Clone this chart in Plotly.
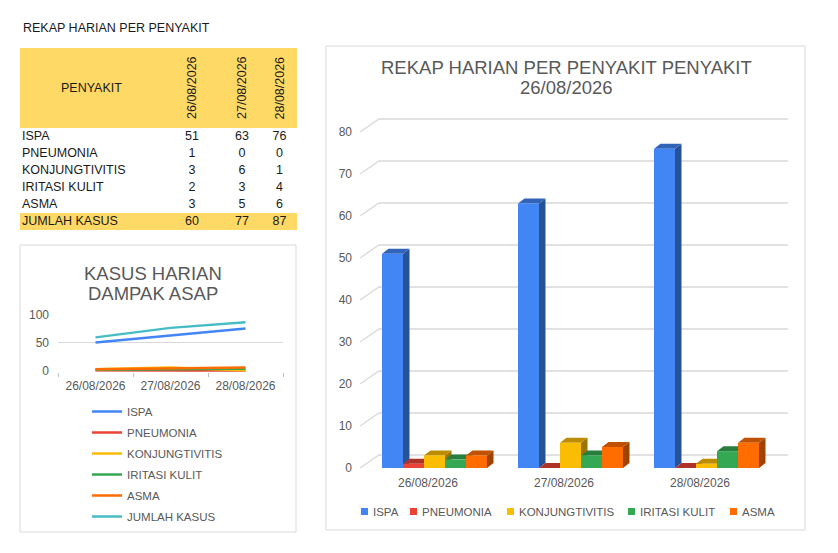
import plotly.graph_objects as go

LEBAR, TINGGI = 838, 553

# data
tanggal = ["26/08/2026", "27/08/2026", "28/08/2026"]
penyakit = ["ISPA", "PNEUMONIA", "KONJUNGTIVITIS", "IRITASI KULIT", "ASMA"]

ispa = [51, 63, 76]
pneumonia = [1, 0, 0]
konjungtivitis = [3, 6, 1]
iritasi_kulit = [2, 3, 4]
asma = [3, 5, 6]
jumlah_kasus = [60, 77, 87]

ticks_batang = [0, 10, 20, 30, 40, 50, 60, 70, 80]
ticks_garis = [0, 50, 100]

seri = [ispa, pneumonia, konjungtivitis, iritasi_kulit, asma]
warna = ["#4285F4", "#EA4335", "#FBBC04", "#34A853", "#FF6D01"]
WARNA_JUMLAH = "#46BDC6"
KUNING = "#FFD966"
ABU = "#595959"
HITAM = "#1a1a1a"
FONT = "Arial, Liberation Sans, sans-serif"


def px_x(p):
    return p / LEBAR


def px_y(p):
    return 1 - p / TINGGI


def gelap(hex_warna, f):
    r, g, b = (int(hex_warna[i:i + 2], 16) for i in (1, 3, 5))
    return "rgb(%d,%d,%d)" % (r * f, g * f, b * f)


fig = go.Figure()

# ---------------- grafik batang 3D (kanan) ----------------
PX_KAT = 136.0      # px per tanggal
PX_NILAI = 4.2      # px per kasus
LEBAR_BATANG = 21 / PX_KAT
GESER = 6.5 / PX_KAT
DALAM_X = 6.5 / PX_KAT
DALAM_Y = 5 / PX_NILAI
DINDING_X = 19 / PX_KAT
DINDING_Y = 13 / PX_NILAI
X_MIN, X_MAX = -0.5, 2.65
Y_MIN, Y_MAX = -0.5, 84

# garis grid di dinding belakang
gx, gy = [], []
for v in ticks_batang:
    gx += [X_MIN, X_MIN + DINDING_X, X_MAX, None]
    gy += [v, v + DINDING_Y, v + DINDING_Y, None]
fig.add_trace(go.Scatter(
    x=gx, y=gy, mode="lines", line=dict(color="#d9d9d9", width=1.3),
    showlegend=False, hoverinfo="skip", zorder=-1
))

for i, (nama, nilai) in enumerate(zip(penyakit, seri)):
    pusat = [k + GESER + (i - 2) * LEBAR_BATANG for k in range(len(tanggal))]
    sx, sy, tx, ty = [], [], [], []
    for c, v in zip(pusat, nilai):
        kiri, kanan = c - LEBAR_BATANG / 2, c + LEBAR_BATANG / 2
        sx += [kanan, kanan + DALAM_X, kanan + DALAM_X, kanan, None]
        sy += [0, DALAM_Y, v + DALAM_Y, v, None]
        tx += [kiri, kiri + DALAM_X, kanan + DALAM_X, kanan, None]
        ty += [v, v + DALAM_Y, v + DALAM_Y, v, None]
    # sisi samping
    fig.add_trace(go.Scatter(
        x=sx, y=sy, mode="lines", fill="toself",
        fillcolor=gelap(warna[i], 0.62), line=dict(width=0),
        showlegend=False, hoverinfo="skip", zorder=2 * i
    ))
    # sisi atas
    fig.add_trace(go.Scatter(
        x=tx, y=ty, mode="lines", fill="toself",
        fillcolor=gelap(warna[i], 0.75), line=dict(width=0),
        showlegend=False, hoverinfo="skip", zorder=2 * i
    ))
    # sisi depan
    fig.add_trace(go.Bar(
        x=pusat, y=nilai, width=LEBAR_BATANG, name=nama,
        marker=dict(color=warna[i], line=dict(width=0)),
        showlegend=False, zorder=2 * i + 1
    ))

# ---------------- grafik garis (kiri bawah) ----------------
for nama, nilai, w in zip(penyakit + ["JUMLAH KASUS"],
                          seri + [jumlah_kasus],
                          warna + [WARNA_JUMLAH]):
    fig.add_trace(go.Scatter(
        x=tanggal, y=nilai, mode="lines", name=nama,
        line=dict(color=w, width=2.5),
        xaxis="x2", yaxis="y2", legend="legend2", legendgroup=nama
    ))

# ---------------- tabel (kiri atas) ----------------
KOLOM = [0, 142, 202, 242, 277]
pusat_kolom = [(KOLOM[j] + KOLOM[j + 1]) / 2 for j in range(len(KOLOM) - 1)]
BARIS_ATAS, TINGGI_BARIS = 88, 17
baris = penyakit + ["JUMLAH KASUS"]
isi = seri + [jumlah_kasus]
pusat_baris = [BARIS_ATAS + TINGGI_BARIS * (r + 0.5) for r in range(len(baris))]

fig.add_trace(go.Scatter(
    x=[2] * len(baris), y=pusat_baris, text=baris, mode="text",
    textposition="middle right", textfont=dict(size=12.5, color=HITAM, family=FONT),
    xaxis="x3", yaxis="y3", showlegend=False, hoverinfo="skip", cliponaxis=False
))
vx, vy, vt = [], [], []
for r, nilai in enumerate(isi):
    for c, v in enumerate(nilai):
        vx.append(pusat_kolom[c + 1])
        vy.append(pusat_baris[r])
        vt.append(str(v))
fig.add_trace(go.Scatter(
    x=vx, y=vy, text=vt, mode="text", textposition="middle center",
    textfont=dict(size=12.5, color=HITAM, family=FONT),
    xaxis="x3", yaxis="y3", showlegend=False, hoverinfo="skip", cliponaxis=False
))

shapes = [
    dict(type="rect", xref="x3", yref="y3", x0=KOLOM[0], x1=KOLOM[-1],
         y0=8, y1=BARIS_ATAS, fillcolor=KUNING, line=dict(width=0), layer="below"),
    dict(type="rect", xref="x3", yref="y3", x0=KOLOM[0], x1=KOLOM[-1],
         y0=pusat_baris[-1] - TINGGI_BARIS / 2, y1=pusat_baris[-1] + TINGGI_BARIS / 2,
         fillcolor=KUNING, line=dict(width=0), layer="below"),
    # bingkai grafik
    dict(type="rect", xref="paper", yref="paper", x0=px_x(20), x1=px_x(296),
         y0=px_y(532), y1=px_y(245), line=dict(color="#d9d9d9", width=1)),
    dict(type="rect", xref="paper", yref="paper", x0=px_x(326), x1=px_x(805),
         y0=px_y(530), y1=px_y(46), line=dict(color="#d9d9d9", width=1)),
]


def teks(text, x, y, size, color=ABU, anchor="center"):
    return dict(text=text, xref="paper", yref="paper", x=px_x(x), y=px_y(y),
                xanchor=anchor, yanchor="middle", showarrow=False,
                font=dict(size=size, color=color, family=FONT))


annotations = [
    teks("REKAP HARIAN PER PENYAKIT", 21, 28, 12.5, HITAM, "left"),
    teks("REKAP HARIAN PER PENYAKIT PENYAKIT", 566, 67, 18.5),
    teks("26/08/2026", 566, 88, 18.5),
    teks("KASUS HARIAN", 153, 273, 18.5),
    teks("DAMPAK ASAP", 153, 293, 18.5),
    dict(text="PENYAKIT", xref="x3", yref="y3", x=pusat_kolom[0], y=48,
         xanchor="center", yanchor="middle", showarrow=False,
         font=dict(size=12.5, color=HITAM, family=FONT)),
]
for c, t in enumerate(tanggal):
    annotations.append(dict(
        text=t, xref="x3", yref="y3", x=pusat_kolom[c + 1], y=48, textangle=-90,
        xanchor="center", yanchor="middle", showarrow=False,
        font=dict(size=12.5, color=HITAM, family=FONT)
    ))

# legenda grafik batang
LEGENDA_X = [361, 410, 507, 628, 730]
for x0, nama, w in zip(LEGENDA_X, penyakit, warna):
    shapes.append(dict(type="rect", xref="paper", yref="paper",
                       x0=px_x(x0), x1=px_x(x0 + 7), y0=px_y(515), y1=px_y(508),
                       fillcolor=w, line=dict(width=0)))
    annotations.append(teks(nama, x0 + 10, 512, 11.5, ABU, "left"))

fig.update_layout(
    width=LEBAR, height=TINGGI,
    margin=dict(l=0, r=0, t=0, b=0, pad=0, autoexpand=False),
    paper_bgcolor="white", plot_bgcolor="rgba(0,0,0,0)",
    font=dict(family=FONT, color=ABU),
    barmode="overlay",
    showlegend=True,
    xaxis=dict(domain=[px_x(360), px_x(360 + (X_MAX - X_MIN) * PX_KAT)],
               range=[X_MIN, X_MAX], tickvals=[0, 1, 2], ticktext=tanggal,
               showgrid=False, zeroline=False, showline=False, ticks="",
               tickfont=dict(size=12, color=ABU), ticklabelstandoff=4,
               automargin=False, anchor="y"),
    yaxis=dict(domain=[px_y(468 - Y_MIN * PX_NILAI), px_y(468 - Y_MAX * PX_NILAI)],
               range=[Y_MIN, Y_MAX], tickvals=ticks_batang,
               showgrid=False, zeroline=False, showline=False, ticks="",
               tickfont=dict(size=12, color=ABU), ticklabelstandoff=7,
               automargin=False, anchor="x"),
    xaxis2=dict(domain=[px_x(58), px_x(283)], type="category", range=[-0.5, 2.5],
                tickson="boundaries", ticks="outside", ticklen=4,
                tickcolor="#bfbfbf", showline=True, linecolor="#bfbfbf",
                showgrid=False, zeroline=False, anchor="y2", automargin=False,
                ticklabelstandoff=3, tickfont=dict(size=12, color=ABU)),
    yaxis2=dict(domain=[px_y(371.8), px_y(315)], range=[-1.5, 100],
                tickvals=ticks_garis, gridcolor="#d9d9d9", zeroline=False,
                ticks="", ticklabelstandoff=8, anchor="x2", automargin=False,
                tickfont=dict(size=12, color=ABU)),
    xaxis3=dict(domain=[px_x(20), px_x(297)], range=[0, 277], visible=False,
                anchor="y3"),
    yaxis3=dict(domain=[px_y(240), px_y(40)], range=[200, 0], visible=False,
                anchor="x3"),
    legend2=dict(x=px_x(87), y=px_y(397), xanchor="left", yanchor="top",
                 font=dict(size=11.5, color=ABU, family=FONT),
                 tracegroupgap=2, itemwidth=30, bgcolor="rgba(0,0,0,0)"),
    shapes=shapes,
    annotations=annotations,
)

fig.write_html("out.html", config={"displayModeBar": False},
               post_script="document.body.style.margin = '0';")
